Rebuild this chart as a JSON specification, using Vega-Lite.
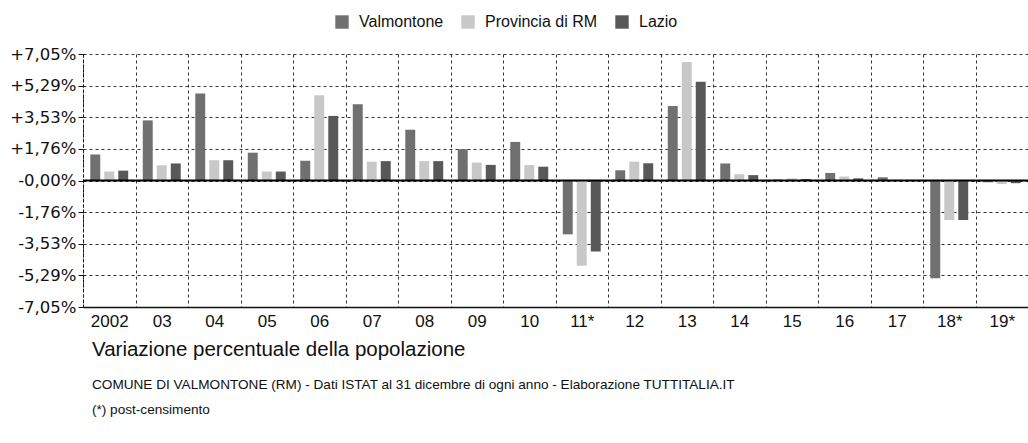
{
  "$schema": "https://vega.github.io/schema/vega-lite/v6.json",
  "width": 945,
  "height": 253,
  "autosize": {"type": "none"},
  "padding": {"left": 83, "top": 54, "right": 0, "bottom": 136},
  "background": "white",
  "config": {"view": {"stroke": null}, "font": "Liberation Sans"},
  "title": {
    "text": "Variazione percentuale della popolazione",
    "subtitle": ["COMUNE DI VALMONTONE (RM) - Dati ISTAT al 31 dicembre di ogni anno - Elaborazione TUTTITALIA.IT", "(*) post-censimento"],
    "orient": "bottom",
    "anchor": "start",
    "frame": "group",
    "dx": 9,
    "offset": 11,
    "font": "Liberation Sans",
    "fontSize": 20.5,
    "fontWeight": "normal",
    "color": "#111",
    "subtitleFont": "Liberation Sans",
    "subtitleFontSize": 13.6,
    "subtitleColor": "#111",
    "subtitleLineHeight": 25,
    "subtitlePadding": 17
  },
  "layer": [
    {
      "data": {"values": [
        {"year": "2002", "area": "Valmontone", "value": 1.45},
        {"year": "2002", "area": "Provincia di RM", "value": 0.5},
        {"year": "2002", "area": "Lazio", "value": 0.55},
        {"year": "03", "area": "Valmontone", "value": 3.35},
        {"year": "03", "area": "Provincia di RM", "value": 0.85},
        {"year": "03", "area": "Lazio", "value": 0.95},
        {"year": "04", "area": "Valmontone", "value": 4.85},
        {"year": "04", "area": "Provincia di RM", "value": 1.13},
        {"year": "04", "area": "Lazio", "value": 1.13},
        {"year": "05", "area": "Valmontone", "value": 1.55},
        {"year": "05", "area": "Provincia di RM", "value": 0.5},
        {"year": "05", "area": "Lazio", "value": 0.5},
        {"year": "06", "area": "Valmontone", "value": 1.1},
        {"year": "06", "area": "Provincia di RM", "value": 4.75},
        {"year": "06", "area": "Lazio", "value": 3.6},
        {"year": "07", "area": "Valmontone", "value": 4.25},
        {"year": "07", "area": "Provincia di RM", "value": 1.05},
        {"year": "07", "area": "Lazio", "value": 1.08},
        {"year": "08", "area": "Valmontone", "value": 2.83},
        {"year": "08", "area": "Provincia di RM", "value": 1.08},
        {"year": "08", "area": "Lazio", "value": 1.08},
        {"year": "09", "area": "Valmontone", "value": 1.75},
        {"year": "09", "area": "Provincia di RM", "value": 1.0},
        {"year": "09", "area": "Lazio", "value": 0.87},
        {"year": "10", "area": "Valmontone", "value": 2.15},
        {"year": "10", "area": "Provincia di RM", "value": 0.86},
        {"year": "10", "area": "Lazio", "value": 0.77},
        {"year": "11*", "area": "Valmontone", "value": -3.0},
        {"year": "11*", "area": "Provincia di RM", "value": -4.75},
        {"year": "11*", "area": "Lazio", "value": -3.95},
        {"year": "12", "area": "Valmontone", "value": 0.57},
        {"year": "12", "area": "Provincia di RM", "value": 1.05},
        {"year": "12", "area": "Lazio", "value": 0.96},
        {"year": "13", "area": "Valmontone", "value": 4.15},
        {"year": "13", "area": "Provincia di RM", "value": 6.6},
        {"year": "13", "area": "Lazio", "value": 5.5},
        {"year": "14", "area": "Valmontone", "value": 0.95},
        {"year": "14", "area": "Provincia di RM", "value": 0.35},
        {"year": "14", "area": "Lazio", "value": 0.3},
        {"year": "15", "area": "Valmontone", "value": 0.05},
        {"year": "15", "area": "Provincia di RM", "value": 0.12},
        {"year": "15", "area": "Lazio", "value": 0.08},
        {"year": "16", "area": "Valmontone", "value": 0.42},
        {"year": "16", "area": "Provincia di RM", "value": 0.22},
        {"year": "16", "area": "Lazio", "value": 0.12},
        {"year": "17", "area": "Valmontone", "value": 0.18},
        {"year": "17", "area": "Provincia di RM", "value": 0.05},
        {"year": "17", "area": "Lazio", "value": 0.03},
        {"year": "18*", "area": "Valmontone", "value": -5.45},
        {"year": "18*", "area": "Provincia di RM", "value": -2.2},
        {"year": "18*", "area": "Lazio", "value": -2.2},
        {"year": "19*", "area": "Valmontone", "value": -0.1},
        {"year": "19*", "area": "Provincia di RM", "value": -0.2},
        {"year": "19*", "area": "Lazio", "value": -0.15}
      ]},
      "mark": {"type": "bar"},
      "encoding": {
        "x": {
          "field": "year",
          "type": "nominal",
          "sort": null,
          "scale": {"paddingInner": 0, "paddingOuter": 0},
          "axis": {
            "title": null,
            "tickBand": "extent",
            "grid": true,
            "gridDash": [3, 3],
            "gridColor": "#333",
            "gridWidth": 1,
            "ticks": false,
            "domain": true,
            "domainColor": "#111",
            "domainWidth": 1.5,
            "labelAngle": 0,
            "labelFont": "Liberation Sans",
            "labelFontSize": 17,
            "labelColor": "#111",
            "labelPadding": 6
          }
        },
        "xOffset": {
          "field": "area",
          "type": "nominal",
          "sort": ["Valmontone", "Provincia di RM", "Lazio"],
          "scale": {"paddingInner": 0.29, "paddingOuter": 0.52}
        },
        "y": {
          "field": "value",
          "type": "quantitative",
          "scale": {"domain": [-7.05, 7.05], "nice": false, "zero": false},
          "axis": {
            "title": null,
            "values": [-7.05, -5.29, -3.53, -1.76, 0, 1.76, 3.53, 5.29, 7.05],
            "tickCount": 30,
            "labelOverlap": false,
            "labelExpr": "(datum.value > 0 ? '+' : '-') + replace(format(abs(datum.value), '.2f'), '.', ',') + '%'",
            "grid": true,
            "gridDash": [3, 3],
            "gridColor": "#333",
            "gridWidth": 1,
            "domain": true,
            "domainColor": "#111",
            "domainDash": [3, 2],
            "ticks": true,
            "tickColor": "#111",
            "tickSize": 5,
            "labelFont": "DejaVu Sans",
            "labelFontSize": 16.5,
            "labelColor": "#111",
            "labelPadding": 2
          }
        },
        "color": {
          "field": "area",
          "type": "nominal",
          "scale": {"domain": ["Valmontone", "Provincia di RM", "Lazio"], "range": ["#707070", "#c8c8c8", "#585858"]},
          "legend": {
            "orient": "none",
            "legendX": 251,
            "legendY": -40,
            "direction": "horizontal",
            "title": null,
            "symbolType": "square",
            "symbolSize": 180,
            "symbolStrokeWidth": 0,
            "labelFont": "Liberation Sans",
            "labelFontSize": 16,
            "labelColor": "#111",
            "labelOffset": 9,
            "columnPadding": 16
          }
        }
      }
    },
    {
      "data": {"values": [{}]},
      "mark": {"type": "rule", "color": "#000", "strokeWidth": 2.2},
      "encoding": {"y": {"datum": 0}}
    }
  ]
}
